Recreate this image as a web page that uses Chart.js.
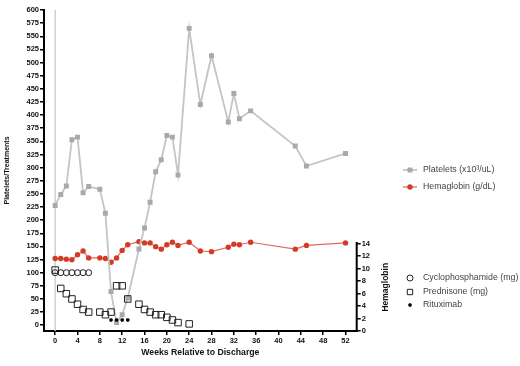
<!DOCTYPE html>
<html><head><meta charset="utf-8">
<script src="https://cdn.jsdelivr.net/npm/chart.js@4/dist/chart.umd.min.js"></script>
<style>html,body{margin:0;padding:0;background:#fff;}#wrap{width:520px;height:366px;position:relative;}</style>
</head><body><div id="wrap"><canvas id="c" width="520" height="366"></canvas></div>
<script>
// ---- data ----
const weeks = [0,1,2,3,4,5,6,8,9,10,11,12,13,15,16,17,18,19,20,21,22,24,26,28,31,32,33,35,43,45,52];
const platelets = [228,249,265,353,358,252,264,259,213,64,5,20,52,145,185,234,292,315,361,358,286,565,420,513,387,441,393,408,341,303,327];
const hemoglobin = [11.6,11.6,11.5,11.4,12.2,12.8,11.7,11.7,11.6,11.0,11.7,12.9,13.8,14.3,14.1,14.1,13.5,13.1,13.8,14.2,13.7,14.2,12.8,12.7,13.4,13.9,13.8,14.2,13.1,13.7,14.1];
const cycloWeeks = [0,1,2,3,4,5,6];
const cyclophosphamide = [100,100,100,100,100,100,100];
const predWeeks = [0,1,2,3,4,5,6,8,9,10,11,12,13,15,16,17,18,19,20,21,22,24];
const prednisone = [105,70,60,50,40,30,25,25,20,25,75,75,50,40,30,25,20,20,15,10,5,2.5];
const rituxWeeks = [10,11,12,13];
const rituximab = [10,10,10,10];
const xTickLabels = [0,4,8,12,16,20,24,28,32,36,40,44,48,52];
const yTickLabels = [0,25,50,75,100,125,150,175,200,225,250,275,300,325,350,375,400,425,450,475,500,525,550,575,600];
const y2TickLabels = [0,2,4,6,8,10,12,14];
const labels = {
  platelets: 'Platelets (x10\u00B3/uL)',
  hemoglobin: 'Hemaglobin (g/dL)',
  cyclo: 'Cyclophosphamide (mg)',
  pred: 'Prednisone (mg)',
  ritux: 'Rituximab',
  xTitle: 'Weeks Relative to Discharge',
  yTitle: 'Platelets/Treatments',
  y2Title: 'Hemaglobin'
};

const FONT = "'Liberation Sans', Arial, sans-serif";
const pts = (xs, ys) => xs.map((x, i) => ({x, y: ys[i]}));

const datasets = [
  {label: labels.platelets, data: pts(weeks, platelets), yAxisID: 'y', borderColor: '#c4c4c4', backgroundColor: '#a9a9a9',
   borderWidth: 1.8, pointStyle: 'rect', pointRadius: 3.5, pointBorderWidth: 0, order: 3, legendY: 170, legendLine: true},
  {label: labels.hemoglobin, data: pts(weeks, hemoglobin), yAxisID: 'y2', borderColor: '#df6a5a', backgroundColor: '#d43a26',
   borderWidth: 1.2, pointStyle: 'circle', pointRadius: 2.7, pointBorderWidth: 0, order: 4, legendY: 187, legendLine: true},
  {label: labels.cyclo, data: pts(cycloWeeks, cyclophosphamide), yAxisID: 'y', showLine: false, borderColor: '#222', backgroundColor: 'rgba(0,0,0,0)',
   borderWidth: 1, pointStyle: 'circle', pointRadius: 3, pointBorderWidth: 1, order: 1, legendY: 278},
  {label: labels.pred, data: pts(predWeeks, prednisone), yAxisID: 'y', showLine: false, borderColor: '#222', backgroundColor: 'rgba(0,0,0,0)',
   borderWidth: 1, pointStyle: 'rect', pointRadius: 4.6, pointBorderWidth: 1, order: 2, legendY: 292},
  {label: labels.ritux, data: pts(rituxWeeks, rituximab), yAxisID: 'y', showLine: false, borderColor: '#000', backgroundColor: '#000',
   borderWidth: 1.2, pointStyle: 'star', pointRadius: 1.8, pointBorderWidth: 1.2, order: 0, legendY: 305}
];

const decor = {
  id: 'decor',
  beforeDatasetsDraw(chart) {
    const {ctx, chartArea, scales} = chart;
    const x0 = scales.x.getPixelForValue(0);
    ctx.save();
    ctx.strokeStyle = '#cfcfcf';
    ctx.lineWidth = 1.5;
    ctx.beginPath();
    ctx.moveTo(x0, chartArea.top);
    ctx.lineTo(x0, chartArea.bottom);
    ctx.stroke();
    ctx.restore();
  },
  afterDraw(chart) {
    const {ctx, chartArea, scales} = chart;
    const y2 = scales.y2;
    const xr = chartArea.right;
    const yb = y2.getPixelForValue(y2TickLabels[0]);
    const yt = y2.getPixelForValue(y2TickLabels[y2TickLabels.length - 1]);
    ctx.save();
    ctx.strokeStyle = '#000';
    ctx.lineWidth = 2;
    ctx.beginPath();
    ctx.moveTo(xr, yb + 1);
    ctx.lineTo(xr, yt - 1.5);
    ctx.stroke();
    ctx.fillStyle = '#111';
    ctx.font = 'bold 8.5px ' + FONT;
    ctx.textAlign = 'center';
    ctx.textBaseline = 'middle';
    ctx.translate(386, (yb + yt) / 2);
    ctx.rotate(-Math.PI / 2);
    ctx.fillText(labels.y2Title, 0, 0);
    ctx.restore();

    ctx.save();
    chart.data.datasets.forEach(ds => {
      const ly = ds.legendY;
      const mx = 410;
      if (ds.legendLine) {
        ctx.strokeStyle = ds.borderColor;
        ctx.lineWidth = ds.borderWidth;
        ctx.beginPath();
        ctx.moveTo(403, ly);
        ctx.lineTo(417, ly);
        ctx.stroke();
      }
      ctx.fillStyle = ds.backgroundColor;
      ctx.strokeStyle = ds.borderColor;
      ctx.lineWidth = ds.pointBorderWidth;
      Chart.helpers.drawPoint(ctx, {pointStyle: ds.pointStyle, radius: ds.legendLine ? ds.pointRadius : Math.min(ds.pointRadius, 3.8), rotation: 0, borderWidth: ds.pointBorderWidth}, mx, ly);
      ctx.fillStyle = '#444';
      ctx.font = '8.8px ' + FONT;
      ctx.textAlign = 'left';
      ctx.textBaseline = 'middle';
      ctx.fillText(ds.label, 423, ly);
    });
    ctx.restore();
  }
};

const tickFont = {family: FONT, size: 7.5, weight: 'bold'};

new Chart(document.getElementById('c'), {
  type: 'line',
  data: {datasets},
  plugins: [decor],
  options: {
    responsive: false,
    animation: false,
    devicePixelRatio: 1,
    layout: {padding: {top: 10, left: 0, right: 0, bottom: 0}},
    plugins: {legend: {display: false}, tooltip: {enabled: false}},
    elements: {line: {tension: 0}},
    scales: {
      x: {
        type: 'linear', min: -2, max: 54,
        afterBuildTicks: s => { s.ticks = xTickLabels.map(v => ({value: v})); },
        afterFit: s => { s.height = 35; },
        grid: {display: true, drawOnChartArea: false, drawTicks: true, tickLength: 4, color: '#000', lineWidth: 1.5},
        border: {display: true, color: '#000', width: 2},
        ticks: {font: tickFont, color: '#111', padding: 1, maxRotation: 0, autoSkip: false},
        title: {display: true, text: labels.xTitle, color: '#111', font: {family: FONT, size: 8.7, weight: 'bold'}, padding: {top: 2, bottom: 8.5}}
      },
      y: {
        type: 'linear', position: 'left', min: -11, max: 600,
        afterBuildTicks: s => { s.ticks = yTickLabels.map(v => ({value: v})); },
        afterFit: s => { s.width = 44; },
        grid: {display: true, drawOnChartArea: false, drawTicks: true, tickLength: 4, color: '#000', lineWidth: 1.5},
        border: {display: true, color: '#000', width: 2},
        ticks: {font: tickFont, color: '#111', padding: 1, autoSkip: false},
        title: {display: true, text: labels.yTitle, color: '#111', font: {family: FONT, size: 7, weight: 'bold'}, padding: {top: 2.5, bottom: 0}}
      },
      y2: {
        type: 'linear', position: 'right', min: 0, max: 51.36,
        afterBuildTicks: s => { s.ticks = y2TickLabels.map(v => ({value: v})); },
        afterFit: s => { s.width = 163.3; },
        grid: {display: true, drawOnChartArea: false, drawTicks: true, tickLength: 4, color: '#000', lineWidth: 1.5},
        border: {display: false},
        ticks: {font: tickFont, color: '#111', padding: 1, autoSkip: false}
      }
    }
  }
});
</script></body></html>
